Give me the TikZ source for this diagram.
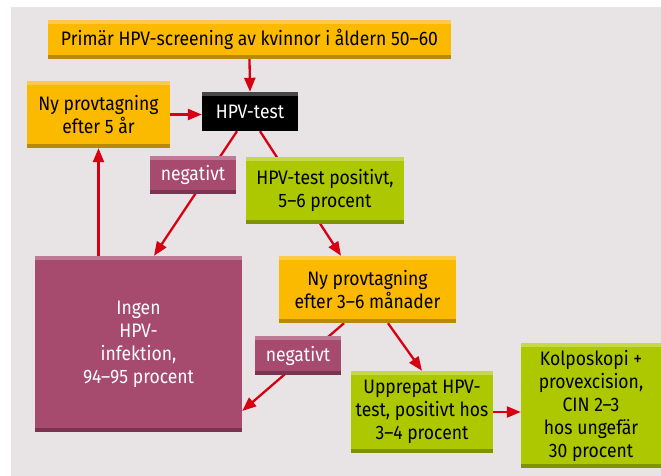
\documentclass[tikz,border=0pt]{standalone}
\usepackage{fontspec}
\setmainfont{Fira Sans}[FakeStretch=0.9]
\usepackage{tikz}
\usetikzlibrary{calc}
\usetikzlibrary{arrows.meta}
\pgfdeclarelayer{bg}
\pgfsetlayers{bg,main}

\definecolor{panel}{RGB}{232,227,228}
\definecolor{arrowred}{RGB}{214,0,18}
\definecolor{gul}{RGB}{251,185,0}
\definecolor{gultop}{RGB}{252,202,70}
\definecolor{gulbot}{RGB}{184,137,10}
\definecolor{lila}{RGB}{166,74,110}
\definecolor{lilatop}{RGB}{190,122,150}
\definecolor{lilabot}{RGB}{122,52,82}
\definecolor{gron}{RGB}{174,200,0}
\definecolor{grontop}{RGB}{196,216,74}
\definecolor{gronbot}{RGB}{127,146,0}
\definecolor{svarttop}{RGB}{70,70,70}

\begin{document}
\begin{tikzpicture}[x=1pt, y=-1pt, font=\fontsize{19.5}{23}\selectfont,
    box/.style={fill=#1, inner sep=0pt, align=center,
        path picture={
            \fill[#1top] (path picture bounding box.north west) rectangle ([yshift=-4pt]path picture bounding box.north east);
            \fill[#1bot] ([yshift=4pt]path picture bounding box.south west) rectangle (path picture bounding box.south east);}},
    size/.style 2 args={minimum width=#1pt, minimum height=#2pt},
    flow/.style={draw=arrowred, line width=2.3pt, -{Triangle[length=14pt,width=11pt]}}]
            \useasboundingbox (0,0) rectangle (661,476);
            \begin{pgfonlayer}{bg}
                \fill[panel] (10.5,7) rectangle (661,476);
            \end{pgfonlayer}

            \node[box=gul, size={403}{39}] (start) at (249.5,39.5) {Primär HPV-screening av kvinnor i åldern 50--60};
            \node[fill=black, text=white, inner sep=0pt, size={96}{39},
                path picture={\fill[svarttop] (path picture bounding box.north west) rectangle ([yshift=-4pt]path picture bounding box.north east);}]
                (test) at (250,111.5) {HPV-test};
            \node[box=gul, size={143}{67}] (ny5) at (98.5,114.5) {Ny provtagning\\efter 5 år};
            \node[box=lila, text=white, size={86}{38}] (neg1) at (193,175) {negativt};
            \node[box=gron, size={158}{67}] (pos) at (325,190.5) {HPV-test positivt,\\5--6 procent};
            \node[box=lila, text=white, size={207}{176}] (ingen) at (138.5,344) {Ingen\\HPV-\\infektion,\\94--95 procent};
            \node[box=gul, size={177}{67}] (ny36) at (367.5,289.5) {Ny provtagning\\efter 3--6 månader};
            \node[box=lila, text=white, size={86}{39}] (neg2) at (298,355.5) {negativt};
            \node[box=gron, size={142}{82}] (upp) at (422,412) {Upprepat HPV-\\test, positivt hos\\3--4 procent};
            \node[box=gron, size={140}{125}] (kolp) at (591,405.5) {Kolposkopi +\\provexcision,\\CIN 2--3\\hos ungefär\\30 procent};

            \begin{pgfonlayer}{bg}
                \draw[flow] (start.south) -- (test.north);
                \draw[flow] (ny5.east) -- (ny5.east -| test.west);
                \draw[flow] ([xshift=-13pt]test.south) -- ([xshift=15.5pt]ingen.north);
                \draw[flow] ([xshift=10pt]test.south) -- ([xshift=-26.5pt]ny36.north);
                \draw[flow] ([xshift=-23.5pt]ny36.south) -- ([yshift=-67pt]ingen.east);
                \draw[flow] ([xshift=20.5pt]ny36.south) -- (upp.north);
                \draw[flow] (upp.east) -- (upp.east -| kolp.west);
                \draw[flow] (ingen.north -| ny5.south) -- (ny5.south);
            \end{pgfonlayer}
        \end{tikzpicture}
\end{document}
